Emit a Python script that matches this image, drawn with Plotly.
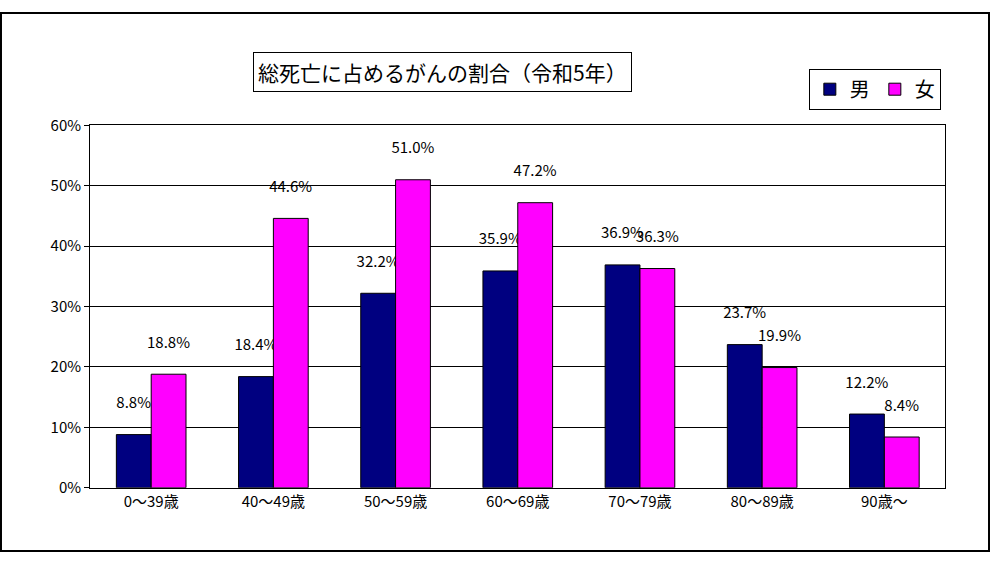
import plotly.graph_objects as go

categories = ["0～39歳", "40～49歳", "50～59歳", "60～69歳", "70～79歳", "80～89歳", "90歳～"]
male = [8.8, 18.4, 32.2, 35.9, 36.9, 23.7, 12.2]
female = [18.8, 44.6, 51.0, 47.2, 36.3, 19.9, 8.4]
tick_vals = [0, 10, 20, 30, 40, 50, 60]
tick_text = ["0%", "10%", "20%", "30%", "40%", "50%", "60%"]

font = "Noto Sans CJK JP"
fig = go.Figure()
fig.add_bar(name="男", x=categories, y=male, marker=dict(color="#000080", line=dict(color="black", width=1)),
            text=[f"{v:.1f}%<br> " for v in male], textposition="outside", cliponaxis=False,
            constraintext="none", textfont=dict(size=15, color="black"))
fig.add_bar(name="女", x=categories, y=female, marker=dict(color="#FF00FF", line=dict(color="black", width=1)),
            text=[f"{v:.1f}%<br> " for v in female], textposition="outside", cliponaxis=False,
            constraintext="none", textfont=dict(size=15, color="black"))
fig.update_layout(
    width=990, height=561, paper_bgcolor="white", plot_bgcolor="white",
    font=dict(family=font, size=15, color="black"),
    bargap=0.43, bargroupgap=0, barmode="group",
    margin=dict(l=0, r=0, t=0, b=0),
    showlegend=True,
    legend=dict(orientation="h", x=0.817, y=0.895, xanchor="left", yanchor="top",
                bordercolor="black", borderwidth=1, font=dict(size=20), bgcolor="white"),
    xaxis=dict(domain=[0.091, 0.955], showline=True, mirror=True, linecolor="black",
               tickfont=dict(size=15), ticks=""),
    yaxis=dict(domain=[0.119, 0.79], range=[0, 60], tickvals=tick_vals, ticktext=tick_text,
               showline=True, mirror=True, linecolor="black", gridcolor="black", gridwidth=1,
               ticks="outside", ticklen=5, tickcolor="black", tickfont=dict(size=15)),
    annotations=[dict(text="総死亡に占めるがんの割合（令和5年）", x=0.256, y=0.925, xref="paper", yref="paper",
                      xanchor="left", yanchor="top", showarrow=False, font=dict(size=21),
                      bordercolor="black", borderwidth=1, borderpad=4, bgcolor="white")],
    shapes=[dict(type="rect", xref="paper", yref="paper", x0=0.001, y0=0.002, x1=0.999, y1=0.998,
                 line=dict(color="black", width=2))],
)
fig.write_html("out.html", config={"displayModeBar": False},
               post_script="document.body.style.margin='0';document.body.style.overflow='hidden';")
